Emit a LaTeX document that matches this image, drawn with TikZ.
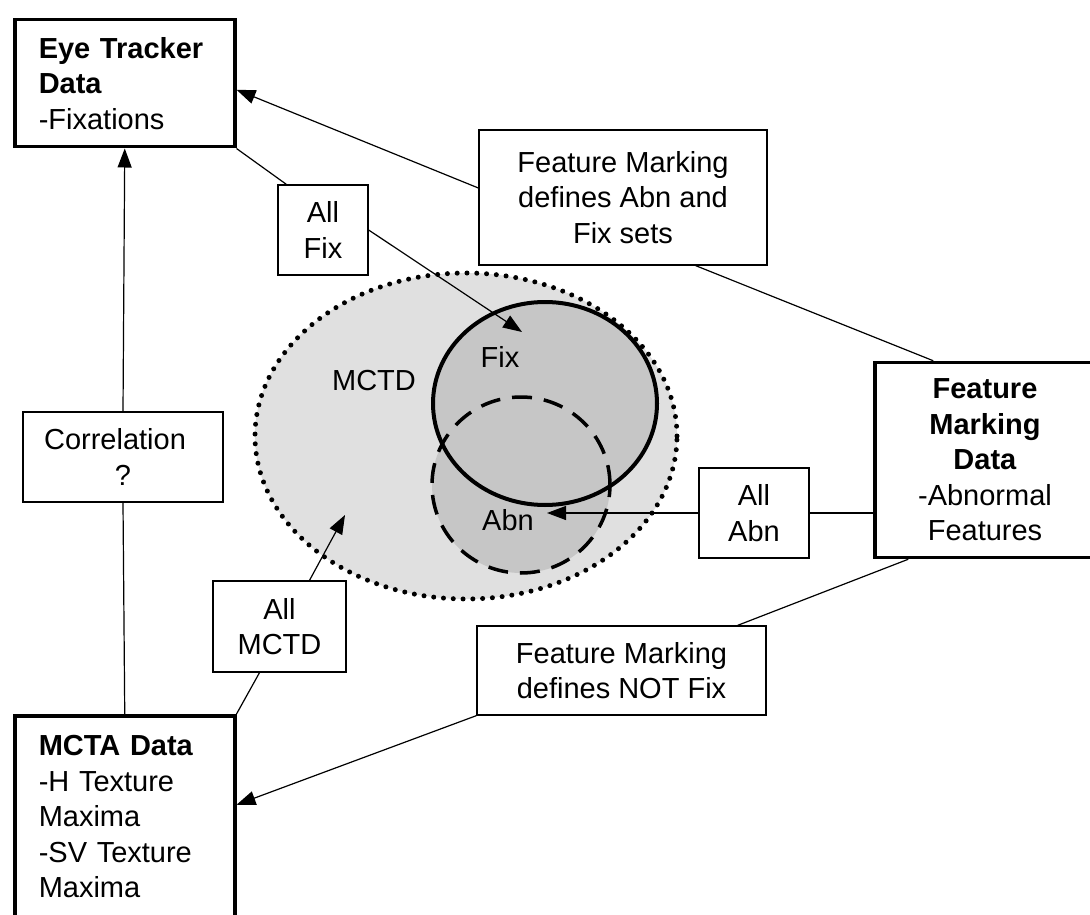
\documentclass[tikz,border=0pt]{standalone}
\usepackage{fontspec}
\setmainfont{Liberation Sans}
\usetikzlibrary{arrows.meta}
\definecolor{mctdgray}{HTML}{E0E0E0}
\definecolor{setgray}{HTML}{C6C6C6}
\begin{document}
\begin{tikzpicture}[x=1pt,y=-1pt,
  font=\fontsize{29}{35.5}\selectfont,
  thickbox/.style={draw, line width=3.5pt, fill=white, inner ysep=0pt},
  thinbox/.style={draw, line width=1.3pt, fill=white, inner sep=0pt, align=center},
  conn/.style={line width=1.2pt},
  arr/.style={conn, -{Triangle[length=19pt,width=14pt]}},
  lbl/.style={inner sep=0pt}
]
\useasboundingbox (0,0) rectangle (1090,915);
\fill[white] (0,0) rectangle (1090,915);

% sets
\fill[mctdgray] (466,436) ellipse [x radius=211pt, y radius=163pt];
\fill[setgray] (545,403.5) ellipse [x radius=112pt, y radius=101.5pt];
\fill[setgray] (521,485) ellipse [x radius=89pt, y radius=88pt];
\draw[line width=4pt] (545,403.5) ellipse [x radius=112pt, y radius=101.5pt];
\draw[line width=3.5pt, dash pattern=on 20pt off 12pt] (521,485) ellipse [x radius=89pt, y radius=88pt];
\draw[line width=5pt, dash pattern=on 0pt off 9.8pt, line cap=round] (466,436) ellipse [x radius=211pt, y radius=163pt];

\node[lbl] (mctdlbl) at (374,381) {MCTD};
\node[lbl] (fixlbl) at (500,357) {Fix};
\node[lbl] (abnlbl) at (508,520) {Abn};

\coordinate (fixpt) at (522,332);
\coordinate (abnpt) at (547,513);
\coordinate (mctdpt) at (345,515);

% boxes
\node[thickbox, anchor=north west, text width=172pt, inner xsep=24pt, align=left,
      minimum height=127pt] (et) at (13,18)
      {\textbf{Eye Tracker}\\\textbf{Data}\\-Fixations};
\node[thickbox, anchor=north west, text width=172pt, inner xsep=24pt, align=left,
      minimum height=202pt] (mcta) at (13,714)
      {\textbf{MCTA Data}\\-H Texture\\Maxima\\-SV Texture\\Maxima};
\node[thickbox, inner xsep=0pt, align=center, minimum width=220pt, minimum height=195pt]
      (fmdata) at (985,460)
      {\textbf{Feature}\\\textbf{Marking}\\\textbf{Data}\\-Abnormal\\Features};

\node[thinbox, minimum width=200pt, minimum height=90pt] (corr) at (123,457)
      {Correlation\hspace*{16pt}\\?};
\node[thinbox, minimum width=90pt, minimum height=90pt] (allfix) at (323,230)
      {All\\Fix};
\node[thinbox, minimum width=288pt, minimum height=135pt] (fmdef) at (623,197.5)
      {Feature Marking\\defines Abn and\\Fix sets};
\node[thinbox, minimum width=110pt, minimum height=90pt] (allabn) at (754,513)
      {All\\Abn};
\node[thinbox, minimum width=133pt, minimum height=91pt] (allmctd) at (279.5,626.5)
      {All\\MCTD};
\node[thinbox, minimum width=289pt, minimum height=89pt] (fmnot) at (621.5,670.5)
      {Feature Marking\\defines NOT Fix};

% connectors
\draw[arr] ([yshift=9.5pt]fmdef.west) -- ([yshift=-6.5pt]et.east);
\draw[conn] ([xshift=-72pt]fmdef.south east) -- ([xshift=60pt]fmdata.north west);
\draw[conn] (et.south east) -- ([xshift=9pt]allfix.north west);
\draw[arr] (allfix.east) -- (fixpt);
\draw[conn] (mcta.north) -- (corr.south);
\draw[arr] (corr.north) -- (et.south);
\draw[conn] (mcta.north east) -- ([xshift=-20pt]allmctd.south);
\draw[arr] ([xshift=30pt]allmctd.north) -- (mctdpt);
\draw[conn] (fmdata.west |- allabn.east) -- (allabn.east);
\draw[arr] (allabn.west) -- (abnpt);
\draw[conn] ([xshift=35pt]fmdata.south west) -- ([xshift=-29pt]fmnot.north east);
\draw[arr] (fmnot.south west) -- ([yshift=12pt]mcta.east);
\end{tikzpicture}
\end{document}
